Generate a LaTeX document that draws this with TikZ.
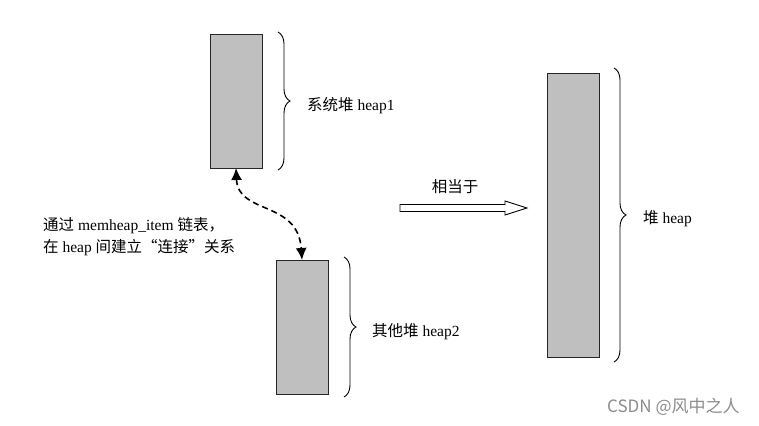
\documentclass[tikz,border=0pt]{standalone}
\usepackage{fontspec}
\setmainfont{Liberation Serif}
\newfontfamily\cjk{Noto Sans CJK SC}
\usetikzlibrary{decorations.pathreplacing,arrows.meta}
\begin{document}
\begin{tikzpicture}[x=1pt,y=-1pt,
  heapbox/.style={draw=black!85, line width=0.9pt, fill=black!25, inner sep=0pt, outer sep=0pt, minimum width=52pt},
  bracestyle/.style={draw, line width=0.9pt, decorate, decoration={brace, amplitude=12pt}},
  lbl/.style={anchor=west, inner sep=0pt, font=\fontsize{15.5}{18}\selectfont},
  linkarrow/.style={line width=1.6pt, dash pattern=on 6pt off 4pt, {Latex[length=12pt,width=11pt]}-{Latex[length=12pt,width=11pt]}},
  fatarrow/.style={draw, line width=0.9pt, fill=white}
]
\useasboundingbox (0,0) rectangle (759,425);
\fill[white] (0,0) rectangle (759,425);

% heaps
\node[heapbox, minimum height=134pt] (h1) at (236,101) {};
\node[heapbox, minimum height=134pt] (h2) at (302,327) {};
\node[heapbox, minimum height=284pt] (hb) at (573,215) {};

% braces
\draw[bracestyle] (278,32) -- (278,170);
\draw[bracestyle] (344,257) -- (344,397);
\draw[bracestyle] (614,68) -- (614,362);

% labels
\node[lbl] (l1) at (307,106) {{\cjk 系统堆} heap1};
\node[lbl] (l2) at (372,332) {{\cjk 其他堆} heap2};
\node[lbl] (l3) at (643,219) {{\cjk 堆} heap};
\node[anchor=center, inner sep=0pt, font=\fontsize{15.5}{18}\selectfont\cjk] (eq) at (455,187) {相当于};

\node[lbl] (t1) at (43,226) {{\cjk 通过} memheap\_item {\cjk 链表，}};
\node[lbl] (t2) at (43,248) {{\cjk 在} heap {\cjk 间建立“连接”关系}};

% dashed link
\draw[linkarrow] (h1.south) .. controls (238,215) and (298,200) .. (h2.north);

% equivalent arrow
\draw[fatarrow] (400,204.5) -- (505,204.5) -- (505,201) -- (527,208) -- (505,215) -- (505,211.5) -- (400,211.5) -- cycle;

% watermark
\node[anchor=west, inner sep=0pt, text=black!45, font=\fontsize{17}{19}\selectfont\cjk] (wm) at (607,407) {CSDN @风中之人};
\end{tikzpicture}
\end{document}
